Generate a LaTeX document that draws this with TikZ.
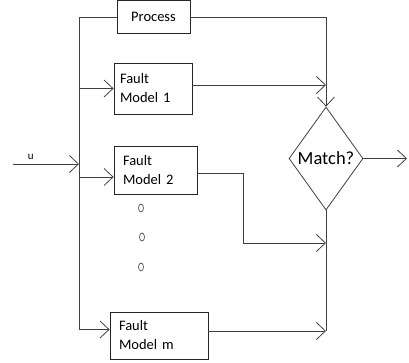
\documentclass[tikz,border=0pt]{standalone}
\usepackage{fontspec}
\setmainfont{Carlito}
\usetikzlibrary{shapes.geometric,arrows.meta}
\begin{document}
\begin{tikzpicture}[x=1pt,y=-1pt,
  box/.style={draw=black!85,line width=0.8pt,rectangle,inner sep=0pt,align=left,
    font=\fontsize{14.5}{19}\selectfont},
  conn/.style={draw=black!75,line width=0.8pt},
  arr/.style={conn,-{Straight Barb[length=9pt,width=17pt,line width=0.8pt]}},
  dot/.style={draw=black!70,line width=0.7pt,ellipse,inner sep=0pt,minimum width=5pt,minimum height=8pt}]
\useasboundingbox (0,0) rectangle (409,362);
% boxes
\node[box,minimum width=73pt,minimum height=33pt,align=center] (proc) at (153.5,17) {Process};
\node[box,minimum width=78pt,minimum height=51pt,text width=66pt] (fm1) at (153,88.5) {Fault\\Model 1};
\node[box,minimum width=83pt,minimum height=48pt,text width=65pt] (fm2) at (155.5,170) {Fault\\Model 2};
\node[box,minimum width=98pt,minimum height=47pt,text width=80pt] (fmm) at (159,335.5) {Fault\\Model m};
\node[draw=black!75,line width=0.8pt,diamond,inner sep=0pt,minimum width=74pt,minimum height=103pt,
  font=\fontsize{18.5}{20}\selectfont] (match) at (326,158.5) {Match?};
% dots
\node[dot] (d1) at (141,208) {};
\node[dot] (d2) at (142,237) {};
\node[dot] (d3) at (141,267) {};
% bus
\coordinate (bus) at (79,0);
\coordinate (busend) at (79,330);
\coordinate (uin) at (13,164);
\coordinate (outend) at (407,158.5);
\coordinate (fm2turn) at (243,0);
\draw[conn] (proc.west) -- (proc.west -| bus) -- (busend);
\draw[arr] (uin) -- (uin -| bus) node[pos=0.27,above=1pt,font=\fontsize{11}{12}\selectfont] (ulab) {u};
\draw[arr] (fm1.west -| bus) -- (fm1.west);
\draw[arr] ([yshift=-7pt]fm2.west -| bus) -- ([yshift=-7pt]fm2.west);
\draw[arr] ([yshift=6pt]fmm.west -| bus) -- ([yshift=6pt]fmm.west);
% outputs
\draw[arr] (proc.east) -| (match.north);
\draw[arr] ([yshift=3.5pt]fm1.east) -- ([yshift=3.5pt]fm1.east -| match.north);
\draw[conn] (match.south) -- ([yshift=4.5pt]fmm.east -| match.south);
\draw[arr] ([yshift=-3pt]fm2.east) -- ([yshift=-3pt]fm2.east -| fm2turn) -- (fm2turn |- 0,243) -- (match.south |- 0,243);
\draw[arr] ([yshift=4.5pt]fmm.east) -- ([yshift=4.5pt]fmm.east -| match.south);
\draw[arr] (match.east) -- (outend);
\end{tikzpicture}
\end{document}
